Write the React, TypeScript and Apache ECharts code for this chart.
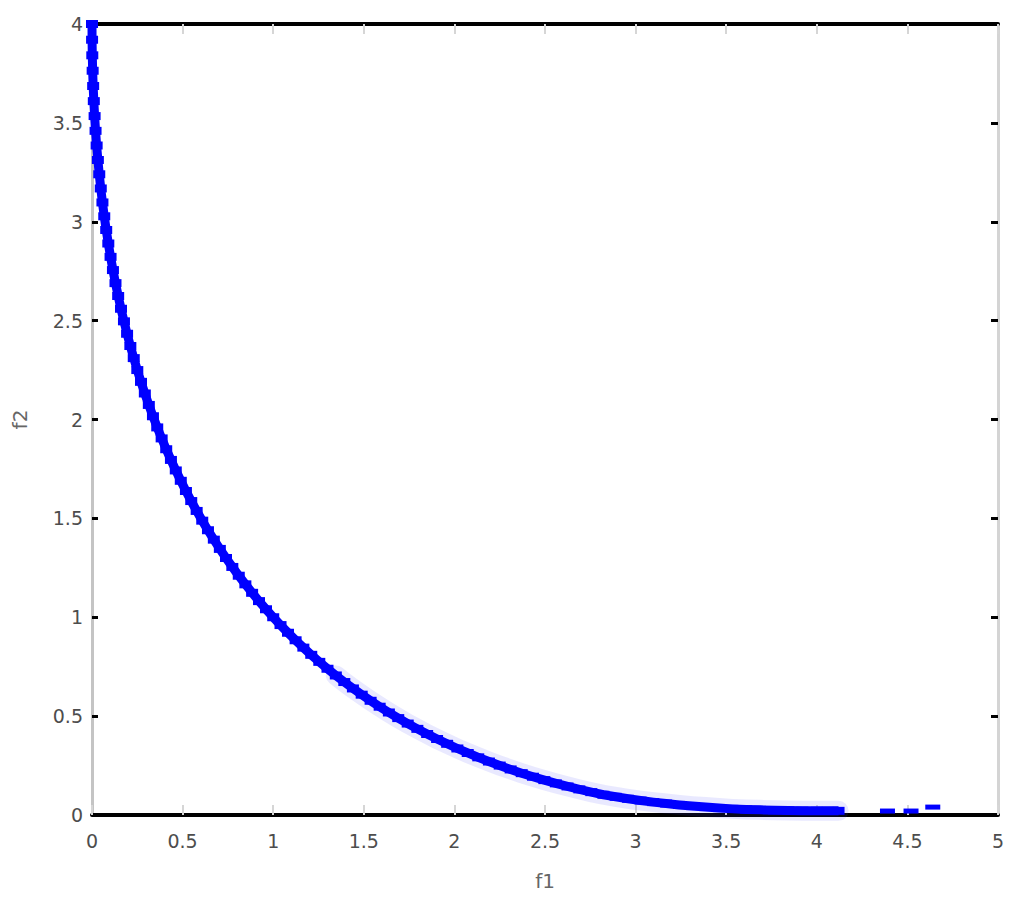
import React, { useEffect, useRef } from "react";
import * as echarts from "echarts";

// Pareto front samples: f1 (x) and f2 (y)
const f1Values = [
  0, 0.0004, 0.0016, 0.0036, 0.0064, 0.01, 0.0144, 0.0196, 0.0256, 0.0324,
  0.04, 0.0484, 0.0576, 0.0676, 0.0784, 0.09, 0.1024, 0.1156, 0.1296, 0.1444,
  0.16, 0.1764, 0.1936, 0.2116, 0.2304, 0.25, 0.2704, 0.2916, 0.3136, 0.3364,
  0.36, 0.3844, 0.4096, 0.4356, 0.4624, 0.49, 0.5184, 0.5476, 0.5776, 0.6084,
  0.64, 0.6724, 0.7056, 0.7396, 0.7744, 0.81, 0.8464, 0.8836, 0.9216, 0.9604,
  1.0, 1.0404, 1.0816, 1.1236, 1.1664, 1.21, 1.2544, 1.2996, 1.3456, 1.3924,
  1.44, 1.4884, 1.5376, 1.5876, 1.6384, 1.69, 1.7424, 1.7956, 1.8496, 1.9044,
  1.96, 2.0164, 2.0736, 2.1316, 2.1904, 2.25, 2.3104, 2.3716, 2.4336, 2.4964,
  2.56, 2.6244, 2.6896, 2.7556, 2.8224, 2.89, 2.9584, 3.0276, 3.0976, 3.1684,
  3.24, 3.3124, 3.3856, 3.4596, 3.5344, 3.61, 3.6864, 3.7636, 3.8416, 3.9204,
  4.0, 4.06, 4.12,
];
const f2Values = [
  4.0, 3.9204, 3.8416, 3.7636, 3.6864, 3.61, 3.5344, 3.4596, 3.3856, 3.3124,
  3.24, 3.1684, 3.0976, 3.0276, 2.9584, 2.89, 2.8224, 2.7556, 2.6896, 2.6244,
  2.56, 2.4964, 2.4336, 2.3716, 2.3104, 2.25, 2.1904, 2.1316, 2.0736, 2.0164,
  1.96, 1.9044, 1.8496, 1.7956, 1.7424, 1.69, 1.6384, 1.5876, 1.5376, 1.4884,
  1.44, 1.3924, 1.3456, 1.2996, 1.2544, 1.21, 1.1664, 1.1236, 1.0816, 1.0404,
  1.0, 0.9604, 0.9216, 0.8836, 0.8464, 0.81, 0.7744, 0.7396, 0.7056, 0.6724,
  0.64, 0.6084, 0.5776, 0.5476, 0.5184, 0.49, 0.4624, 0.4356, 0.4096, 0.3844,
  0.36, 0.3364, 0.3136, 0.2916, 0.2704, 0.25, 0.2304, 0.2116, 0.1936, 0.1764,
  0.16, 0.1444, 0.1296, 0.1156, 0.1024, 0.092, 0.082, 0.073, 0.065, 0.058,
  0.051, 0.045, 0.04, 0.035, 0.031, 0.028, 0.026, 0.024, 0.023, 0.022,
  0.021, 0.021, 0.021,
];

// isolated points beyond the main front
const outlierF1 = [4.39, 4.52, 4.64];
const outlierF2 = [0.02, 0.02, 0.04];

const xTicks = { min: 0, max: 5, interval: 0.5 };
const yTicks = { min: 0, max: 4, interval: 0.5 };

const xName = "f1";
const yName = "f2";

export default function App() {
  const ref = useRef<HTMLDivElement>(null);

  useEffect(() => {
    if (!ref.current) return;
    const chart = echarts.init(ref.current, undefined, { renderer: "svg" });

    const front = f1Values.map((x, i) => [x, f2Values[i]]);
    const halo = front.filter((p) => p[0] >= 1.3);
    const outliers = outlierF1.map((x, i) => [x, outlierF2[i]]);

    const labelStyle = {
      color: "#4d4d4d",
      fontSize: 19,
      fontFamily: "DejaVu Sans, Arial, sans-serif",
    };

    chart.setOption({
      animation: false,
      backgroundColor: "#ffffff",
      grid: { left: 92, right: 26, top: 24, bottom: 87, containLabel: false },
      xAxis: [
        {
          type: "value",
          position: "bottom",
          min: xTicks.min,
          max: xTicks.max,
          interval: xTicks.interval,
          name: xName,
          nameLocation: "middle",
          nameGap: 56,
          nameTextStyle: { ...labelStyle, color: "#666", fontSize: 20 },
          axisLine: { show: true, onZero: false, lineStyle: { color: "#000", width: 4 } },
          axisTick: { show: true, inside: true, length: 10, lineStyle: { color: "#d6d6d6", width: 2 } },
          axisLabel: { ...labelStyle, margin: 16 },
          splitLine: { show: false },
        },
        {
          type: "value",
          position: "top",
          min: xTicks.min,
          max: xTicks.max,
          interval: xTicks.interval,
          axisLine: { show: true, onZero: false, lineStyle: { color: "#000", width: 4 } },
          axisTick: { show: true, inside: true, length: 10, lineStyle: { color: "#d6d6d6", width: 2 } },
          axisLabel: { show: false },
          splitLine: { show: false },
        },
      ],
      yAxis: [
        {
          type: "value",
          position: "left",
          min: yTicks.min,
          max: yTicks.max,
          interval: yTicks.interval,
          name: yName,
          nameLocation: "middle",
          nameGap: 62,
          nameRotate: 90,
          nameTextStyle: { ...labelStyle, color: "#666", fontSize: 20 },
          axisLine: { show: true, onZero: false, lineStyle: { color: "#c4c4c4", width: 3 } },
          axisTick: { show: true, inside: true, length: 6, lineStyle: { color: "#000", width: 3 } },
          axisLabel: { ...labelStyle, margin: 9 },
          splitLine: { show: false },
        },
        {
          type: "value",
          position: "right",
          min: yTicks.min,
          max: yTicks.max,
          interval: yTicks.interval,
          axisLine: { show: true, onZero: false, lineStyle: { color: "#d4d4d4", width: 3 } },
          axisTick: { show: true, inside: true, length: 7, lineStyle: { color: "#000", width: 3 } },
          axisLabel: { show: false },
          splitLine: { show: false },
        },
      ],
      series: [
        {
          type: "line",
          data: halo,
          xAxisIndex: 0,
          yAxisIndex: 0,
          showSymbol: false,
          clip: false,
          silent: true,
          lineStyle: { color: "rgba(70,70,255,0.12)", width: 20, cap: "round", join: "round" },
          z: 1,
        },
        {
          type: "line",
          data: front,
          xAxisIndex: 0,
          yAxisIndex: 0,
          symbol: "rect",
          symbolSize: [12, 8],
          showSymbol: true,
          showAllSymbol: true,
          clip: false,
          itemStyle: { color: "#0000ff" },
          lineStyle: { color: "#0000ff", width: 9, join: "round" },
          z: 3,
        },
        {
          type: "scatter",
          data: outliers,
          xAxisIndex: 0,
          yAxisIndex: 0,
          symbol: "rect",
          symbolSize: [15, 5],
          clip: false,
          itemStyle: { color: "#0000ff", opacity: 1 },
          z: 3,
        },
      ],
    });

    return () => chart.dispose();
  }, []);

  return (
    <div
      ref={ref}
      style={{ position: "fixed", left: 0, top: 0, width: 1024, height: 902, background: "#fff" }}
    />
  );
}
